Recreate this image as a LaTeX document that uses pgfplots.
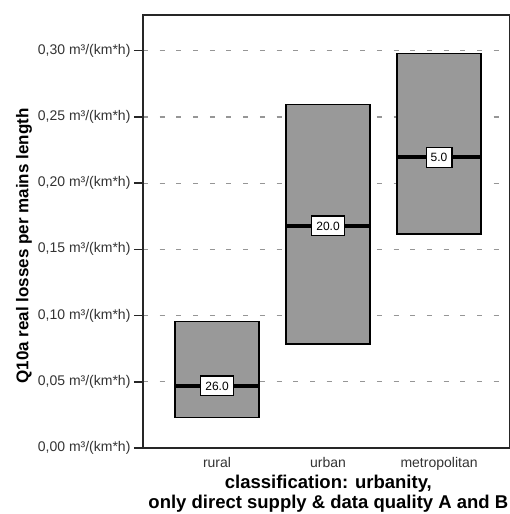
\documentclass[border=0pt]{standalone}
\usepackage{fontspec}
\setmainfont{Liberation Sans}
\usepackage{pgfplots}
\pgfplotsset{compat=1.18}
\definecolor{boxgray}{RGB}{153,153,153}
\definecolor{gridgray}{RGB}{150,150,150}
\begin{document}
\begin{tikzpicture}
\begin{axis}[name=ax, scale only axis, width=367pt, height=433pt,
  xmin=0.333, xmax=3.639, ymin=0, ymax=0.327,
  axis line style={line width=1.5pt, black!85},
  /pgf/number format/assume math mode=true,
  ytick={0,0.05,0.1,0.15,0.2,0.25,0.3},
  yticklabel={\pgfmathprintnumber[fixed,fixed zerofill,precision=2,use comma]{\tick} m³/(km*h)},
  xtick={1,2,3}, xticklabels={rural,urban,metropolitan},
  x tick style={draw=none},
  xticklabel style={yshift=3pt},
  y tick style={black!85, line width=1.5pt},
  tick align=outside, tickpos=left, major tick length=9pt,
  tick label style={font=\fontsize{14}{16}\selectfont, text=black!80},
  ymajorgrids, major grid style={gridgray, line width=1.3pt, dash pattern=on 5pt off 11.7pt},
  ylabel={Q10a real losses per mains length},
  ylabel style={font=\bfseries\fontsize{17}{20}\selectfont, at={(axis description cs:-0.324,0.4665)}, anchor=center},
  xlabel={classification: urbanity,\\only direct supply \& data quality A and B},
  xlabel style={font=\bfseries\fontsize{18.5}{20}\selectfont, align=center, at={(axis description cs:0.505,0)}, anchor=north, yshift=-27pt, inner ysep=0pt},
]
% rural
\addplot[fill=boxgray, draw=black, line width=1.3pt] coordinates {(0.6215,0.0229) (1.3785,0.0229) (1.3785,0.0953) (0.6215,0.0953)} --cycle;
\addplot[black, line width=4pt] coordinates {(0.6215,0.0470) (1.3785,0.0470)};
% urban
\addplot[fill=boxgray, draw=black, line width=1.3pt] coordinates {(1.6215,0.0785) (2.3785,0.0785) (2.3785,0.2596) (1.6215,0.2596)} --cycle;
\addplot[black, line width=4pt] coordinates {(1.6215,0.1678) (2.3785,0.1678)};
% metropolitan
\addplot[fill=boxgray, draw=black, line width=1.3pt] coordinates {(2.6215,0.1617) (3.3785,0.1617) (3.3785,0.2978) (2.6215,0.2978)} --cycle;
\addplot[black, line width=4pt] coordinates {(2.6215,0.2194) (3.3785,0.2194)};
% counts
\addplot[only marks, mark=none, nodes near coords, point meta=explicit symbolic,
  nodes near coords style={anchor=center, fill=white, draw=black, line width=1.2pt, font=\fontsize{12}{14}\selectfont, inner xsep=4.5pt, inner ysep=5.5pt, text height=8.6pt, text depth=0pt}]
  coordinates {(1,0.047)[26.0] (2,0.1678)[20.0] (3,0.2194)[5.0]};
\end{axis}
\pgfresetboundingbox
\path ([xshift=-143pt,yshift=-66pt]ax.south west) rectangle ([xshift=-1pt,yshift=15pt]ax.north east);
\end{tikzpicture}
\end{document}
